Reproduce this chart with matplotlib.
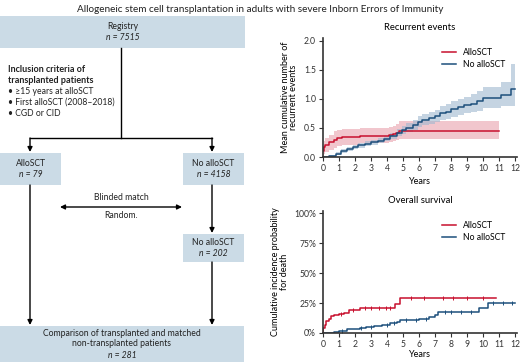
import numpy as np
import matplotlib
matplotlib.use("Agg")
import matplotlib.pyplot as plt
from matplotlib.patches import Rectangle

plt.rcParams["font.family"] = ["Lato", "DejaVu Sans"]

RED = "#c8102e"
BLUE = "#1d4f7c"
BOX = "#cbdbe6"

# ---- Recurrent events (mean cumulative number) ----
rec_allo_t = [0, 0.05, 0.15, 0.4, 0.7, 0.9, 1.2, 2.3, 4.1, 4.35, 4.55, 4.75, 11.0]
rec_allo_y = [0.10, 0.18, 0.21, 0.25, 0.30, 0.33, 0.35, 0.37, 0.38, 0.40, 0.42, 0.45, 0.45]
rec_allo_lo = [0.02, 0.05, 0.08, 0.12, 0.16, 0.19, 0.21, 0.24, 0.25, 0.27, 0.29, 0.31, 0.31]
rec_allo_hi = [0.18, 0.28, 0.32, 0.38, 0.44, 0.47, 0.49, 0.50, 0.51, 0.54, 0.57, 0.62, 0.62]

rec_no_t = [0, 0.4, 0.8, 1.1, 1.5, 1.9, 2.2, 2.6, 3.0, 3.4, 3.8, 4.2, 4.6, 4.9, 5.2,
            5.6, 5.9, 6.2, 6.6, 7.0, 7.3, 7.7, 8.0, 8.4, 8.8, 9.2, 9.6, 10.0, 11.1, 11.7, 12.0]
rec_no_y = [0.0, 0.02, 0.05, 0.10, 0.14, 0.17, 0.20, 0.23, 0.25, 0.28, 0.31, 0.36, 0.42, 0.47, 0.50,
            0.55, 0.61, 0.64, 0.67, 0.70, 0.75, 0.78, 0.82, 0.86, 0.89, 0.92, 0.96, 1.02, 1.07, 1.17, 1.17]
rec_no_lo = [0.0, 0.0, 0.03, 0.07, 0.11, 0.14, 0.16, 0.19, 0.21, 0.24, 0.27, 0.31, 0.36, 0.40, 0.43,
             0.47, 0.52, 0.55, 0.57, 0.60, 0.64, 0.66, 0.69, 0.72, 0.75, 0.77, 0.80, 0.85, 0.87, 0.87, 0.87]
rec_no_hi = [0.0, 0.04, 0.08, 0.13, 0.17, 0.20, 0.24, 0.27, 0.30, 0.33, 0.36, 0.41, 0.48, 0.54, 0.58,
             0.63, 0.70, 0.74, 0.77, 0.81, 0.87, 0.91, 0.96, 1.00, 1.04, 1.08, 1.13, 1.20, 1.30, 1.60, 1.60]

# ---- Overall survival (cumulative incidence of death) ----
os_allo_t = [0, 0.03, 0.1, 0.2, 0.35, 0.5, 0.7, 1.0, 1.3, 1.6, 2.3, 4.5, 4.8, 10.8]
os_allo_y = [0.0, 0.04, 0.07, 0.10, 0.12, 0.14, 0.15, 0.16, 0.17, 0.19, 0.205, 0.245, 0.29, 0.29]

os_no_t = [0, 0.7, 1.0, 1.5, 2.0, 2.3, 2.7, 3.2, 3.7, 4.2, 4.6, 4.8, 5.4, 6.0, 6.6, 7.0, 7.2, 9.7, 10.3, 12.0]
os_no_y = [0.0, 0.01, 0.02, 0.03, 0.035, 0.045, 0.05, 0.06, 0.07, 0.08, 0.09, 0.105, 0.11, 0.12, 0.13,
           0.15, 0.175, 0.21, 0.255, 0.255]

os_allo_cens = [1.1, 1.9, 2.6, 3.0, 3.5, 3.9, 4.2, 5.5, 6.3, 7.5, 8.1, 9.0, 10.0]
os_no_cens = [1.2, 2.4, 3.0, 4.0, 4.4, 5.2, 5.8, 6.4, 7.6, 8.0, 8.6, 9.2, 10.6, 11.2, 11.8]

fig = plt.figure(figsize=(5.2, 3.63), dpi=100)

# ---- flowchart in pixel coordinates ----
fl = fig.add_axes([0, 0, 1, 1])
fl.set_xlim(0, 520)
fl.set_ylim(363, 0)
fl.axis("off")

fig.text(0.5, 1 - 9 / 363, "Allogeneic stem cell transplantation in adults with severe Inborn Errors of Immunity",
         ha="center", va="center", fontsize=7.2, color="#222222")


def box(x, y, w, h, lines):
    fl.add_patch(Rectangle((x, y), w, h, facecolor=BOX, edgecolor="none"))
    n = len(lines)
    for i, (txt, ital) in enumerate(lines):
        yy = y + h / 2 + (i - (n - 1) / 2) * 11
        fl.text(x + w / 2, yy, txt, ha="center", va="center", fontsize=6.2,
                style="italic" if ital else "normal", color="#222222")


box(0, 16, 245, 32, [("Registry", False), ("n = 7515", True)])
box(0, 153, 61, 32, [("AlloSCT", False), ("n = 79", True)])
box(183, 153, 61, 32, [("No alloSCT", False), ("n = 4158", True)])
box(183, 234, 61, 28, [("No alloSCT", False), ("n = 202", True)])
box(0, 326, 244, 36, [("Comparison of transplanted and matched", False),
                      ("non-transplanted patients", False), ("n = 281", True)])

lw = 1.0
fl.plot([121, 121], [48, 138], color="black", lw=lw)
fl.plot([30, 212], [138, 138], color="black", lw=lw)
arr = dict(arrowstyle="-|>", color="black", lw=lw, mutation_scale=7, shrinkA=0, shrinkB=0)
fl.annotate("", xy=(30, 152), xytext=(30, 138), arrowprops=arr)
fl.annotate("", xy=(212, 152), xytext=(212, 138), arrowprops=arr)
fl.annotate("", xy=(30, 325), xytext=(30, 185), arrowprops=arr)
fl.annotate("", xy=(212, 233), xytext=(212, 185), arrowprops=arr)
fl.annotate("", xy=(212, 325), xytext=(212, 262), arrowprops=arr)
fl.annotate("", xy=(60, 207), xytext=(182, 207),
            arrowprops=dict(arrowstyle="<|-|>", color="black", lw=lw, mutation_scale=7, shrinkA=0, shrinkB=0))
fl.text(121, 198, "Blinded match", ha="center", va="center", fontsize=6.2, color="#222222")
fl.text(121, 216, "Random.", ha="center", va="center", fontsize=6.2, color="#222222")

fl.text(8, 70, "Inclusion criteria of", ha="left", va="center",
        fontsize=6.5, fontweight="bold", color="#222222")
fl.text(8, 80.5, "transplanted patients", ha="left", va="center",
        fontsize=6.5, fontweight="bold", color="#222222")
for i, s in enumerate(["≥15 years at alloSCT", "First alloSCT (2008–2018)", "CGD or CID"]):
    fl.text(8, 91.5 + i * 11, "• " + s, ha="left", va="center", fontsize=6.2, color="#222222")


def style(ax):
    for s in ["top", "right"]:
        ax.spines[s].set_visible(False)
    for s in ["left", "bottom"]:
        ax.spines[s].set_linewidth(1.2)
        ax.spines[s].set_color("#333333")
    ax.tick_params(labelsize=6.2, length=3, width=0.8, colors="#333333", pad=2)
    ax.set_xlim(0, 12.1)
    ax.set_xticks(range(0, 13))
    ax.set_xlabel("Years", fontsize=6.5, labelpad=3)


# ---- recurrent events ----
ax1 = fig.add_axes([323 / 520, 1 - 157 / 363, 194 / 520, 119 / 363])
ax1.fill_between(rec_allo_t, rec_allo_lo, rec_allo_hi, step="post", color="#e8a0ac", alpha=0.6, lw=0)
ax1.fill_between(rec_no_t, rec_no_lo, rec_no_hi, step="post", color="#9fb8cf", alpha=0.6, lw=0)
ax1.step(rec_allo_t, rec_allo_y, where="post", color=RED, lw=1.1, label="AlloSCT")
ax1.step(rec_no_t, rec_no_y, where="post", color=BLUE, lw=1.1, label="No alloSCT")
ax1.set_ylim(0, 2.05)
ax1.set_yticks([0, 0.5, 1.0, 1.5, 2.0])
ax1.set_yticklabels(["0.0", "0.5", "1.0", "1.5", "2.0"])
style(ax1)
ax1.set_ylabel("Mean cumulative number of\nrecurrent events", fontsize=6.5, linespacing=1.0, labelpad=4)
ax1.set_title("Recurrent events", fontsize=6.8, pad=6)
ax1.legend(loc="upper right", frameon=False, fontsize=6.2, handlelength=1.6, labelspacing=0.3,
           bbox_to_anchor=(0.98, 0.98))

# ---- overall survival ----
ax2 = fig.add_axes([323 / 520, 1 - 333 / 363, 194 / 520, 122 / 363])
ax2.step(os_allo_t, os_allo_y, where="post", color=RED, lw=1.1, label="AlloSCT")
ax2.step(os_no_t, os_no_y, where="post", color=BLUE, lw=1.1, label="No alloSCT")
ya = [os_allo_y[np.searchsorted(os_allo_t, c, side="right") - 1] for c in os_allo_cens]
yb = [os_no_y[np.searchsorted(os_no_t, c, side="right") - 1] for c in os_no_cens]
ax2.plot(os_allo_cens, ya, "|", color=RED, ms=3, mew=0.7)
ax2.plot(os_no_cens, yb, "|", color=BLUE, ms=3, mew=0.7)
ax2.set_ylim(0, 1.02)
ax2.set_yticks([0, 0.25, 0.5, 0.75, 1.0])
ax2.set_yticklabels(["0%", "25%", "50%", "75%", "100%"])
style(ax2)
ax2.xaxis.labelpad = 1
ax2.set_ylabel("Cumulative incidence probability\nfor death", fontsize=6.5, linespacing=1.0, labelpad=4)
ax2.set_title("Overall survival", fontsize=6.8, pad=6)
ax2.legend(loc="upper right", frameon=False, fontsize=6.2, handlelength=1.6, labelspacing=0.3,
           bbox_to_anchor=(0.98, 0.98))

fig.savefig("out.png", dpi=100)
